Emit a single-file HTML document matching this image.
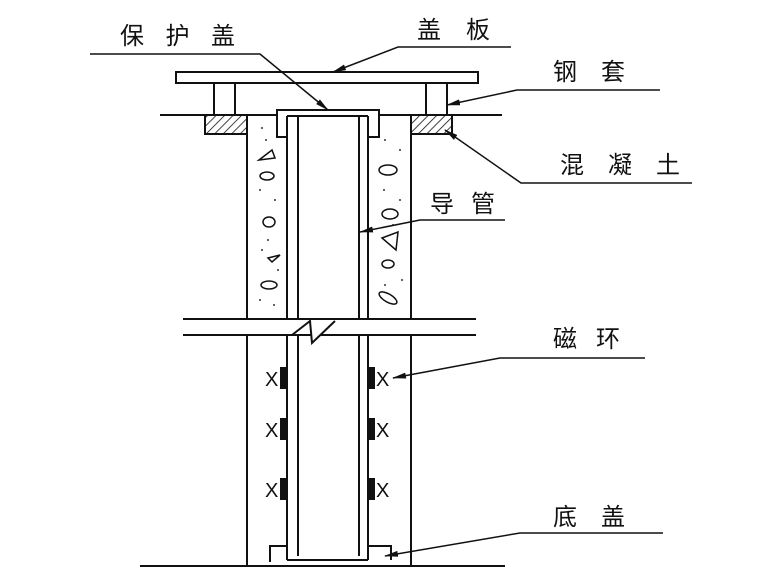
<!DOCTYPE html>
<html><head><meta charset="utf-8"><style>
html,body{margin:0;padding:0;background:#fff;}
svg{display:block}
text{font-family:"Liberation Sans","Noto Sans CJK SC",sans-serif;font-size:24px;fill:#111}
</style></head><body>
<svg width="780" height="585" viewBox="0 0 780 585" xmlns="http://www.w3.org/2000/svg">
<defs>
<pattern id="h" width="6" height="6" patternUnits="userSpaceOnUse" patternTransform="rotate(45)">
<line x1="0" y1="0" x2="0" y2="6" stroke="#111" stroke-width="1.6"/></pattern>
<marker id="a" markerWidth="14" markerHeight="6" refX="13" refY="3" orient="auto" markerUnits="userSpaceOnUse">
<path d="M0,0 L14,3 L0,6 Z" fill="#111"/></marker>
</defs>
<g stroke="#111" stroke-width="2" fill="none">
<rect x="176" y="72" width="302" height="11" fill="#fff"/>
<line x1="214" y1="83" x2="214" y2="115"/><line x1="235" y1="83" x2="235" y2="115"/>
<line x1="426" y1="83" x2="426" y2="115"/><line x1="447" y1="83" x2="447" y2="115"/>
<line x1="160" y1="115" x2="277" y2="115"/><line x1="379" y1="115" x2="502" y2="115"/>
<rect x="205" y="115" width="42" height="19" fill="url(#h)"/>
<rect x="411" y="115" width="41" height="19" fill="url(#h)"/>
<line x1="247" y1="115" x2="247" y2="319"/><line x1="411" y1="115" x2="411" y2="319"/>
<line x1="247" y1="335" x2="247" y2="566"/><line x1="411" y1="335" x2="411" y2="566"/>
<path d="M287,137 L277,137 L277,110 L379,110 L379,137 L368,137"/>
<line x1="287" y1="116" x2="287" y2="319"/><line x1="368" y1="116" x2="368" y2="319"/>
<line x1="287" y1="116" x2="368" y2="116"/>
<line x1="298" y1="116" x2="298" y2="319"/><line x1="359" y1="116" x2="359" y2="319"/>
<line x1="287" y1="335" x2="287" y2="560"/><line x1="368" y1="335" x2="368" y2="560"/>
<line x1="298" y1="335" x2="298" y2="556"/><line x1="359" y1="335" x2="359" y2="556"/>
<line x1="287" y1="560" x2="368" y2="560"/>
<line x1="183" y1="319" x2="476" y2="319"/><line x1="183" y1="335" x2="476" y2="335"/>
<path d="M292,335 L310,321 L312,343 L335,321" fill="#fff"/>
<path d="M270,562 L270,546 L287,546"/><path d="M368,546 L391,546 L391,560"/>
<line x1="140" y1="566" x2="505" y2="566"/>
</g>
<g fill="#111">
<rect x="280" y="367" width="7" height="22"/><rect x="368" y="367" width="7" height="22"/>
<rect x="280" y="418" width="7" height="22"/><rect x="368" y="418" width="7" height="22"/>
<rect x="280" y="478" width="7" height="22"/><rect x="368" y="478" width="7" height="22"/>
</g>
<g>
<text x="265" y="386" style="font-size:20px">X</text><text x="376" y="386" style="font-size:20px">X</text>
<text x="265" y="437" style="font-size:20px">X</text><text x="376" y="437" style="font-size:20px">X</text>
<text x="265" y="497" style="font-size:20px">X</text><text x="376" y="497" style="font-size:20px">X</text>
</g>
<g stroke="#111" stroke-width="1.5" fill="none">
<path d="M259,160 L272,150 L275,158 Z"/><ellipse cx="267" cy="176" rx="7" ry="4"/>
<ellipse cx="269" cy="222" rx="6" ry="5"/><path d="M268,258 L280,255 L272,262 Z"/>
<ellipse cx="269" cy="285" rx="8" ry="4"/>
<ellipse cx="388" cy="170" rx="9" ry="5"/><ellipse cx="390" cy="214" rx="8" ry="5"/>
<path d="M382,238 L398,232 L396,250 Z"/><ellipse cx="388" cy="264" rx="6" ry="4"/>
<ellipse cx="388" cy="298" rx="10" ry="4" transform="rotate(30 388 298)"/>
</g>
<g fill="#333">
<circle cx="262" cy="128" r="1"/><circle cx="266" cy="140" r="1"/><circle cx="260" cy="190" r="1"/><circle cx="275" cy="200" r="1"/><circle cx="268" cy="240" r="1"/><circle cx="262" cy="250" r="1"/><circle cx="278" cy="270" r="1"/><circle cx="260" cy="300" r="1"/><circle cx="274" cy="305" r="1"/>
<circle cx="385" cy="140" r="1"/><circle cx="400" cy="150" r="1"/><circle cx="384" cy="190" r="1"/><circle cx="400" cy="200" r="1"/><circle cx="393" cy="225" r="1"/><circle cx="402" cy="280" r="1"/><circle cx="385" cy="285" r="1"/>
</g>
<g stroke="#111" stroke-width="1.5" fill="none">
<path d="M90,54 L260,54 L328,110" marker-end="url(#a)"/>
<path d="M511,47 L398,47 L333,72" marker-end="url(#a)"/>
<path d="M660,90 L517,90 L447,105" marker-end="url(#a)"/>
<path d="M692,183 L521,183 L445,130" marker-end="url(#a)"/>
<path d="M505,220 L420,220 L360,232" marker-end="url(#a)"/>
<path d="M645,358 L500,358 L393,378" marker-end="url(#a)"/>
<path d="M663,533 L520,533 L385,556" marker-end="url(#a)"/>
</g>
<text x="120" y="44" textLength="115" lengthAdjust="spacing">保护盖</text>
<text x="417" y="38" textLength="73" lengthAdjust="spacing">盖板</text>
<text x="553" y="80" textLength="72" lengthAdjust="spacing">钢套</text>
<text x="560" y="173" textLength="120" lengthAdjust="spacing">混凝土</text>
<text x="430" y="212" textLength="65" lengthAdjust="spacing">导管</text>
<text x="553" y="347" textLength="67" lengthAdjust="spacing">磁环</text>
<text x="553" y="525" textLength="72" lengthAdjust="spacing">底盖</text>
</svg>
</body></html>
